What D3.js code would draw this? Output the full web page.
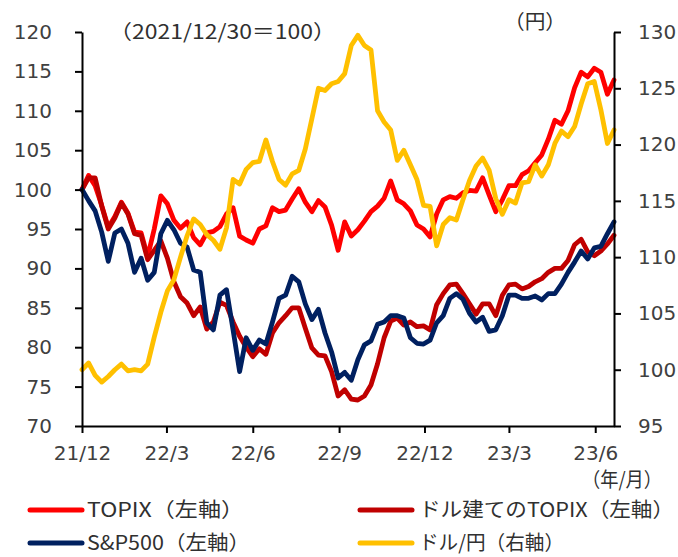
<!DOCTYPE html>
<html><head><meta charset="utf-8">
<script src="https://cdn.jsdelivr.net/npm/d3@7/dist/d3.min.js"></script>
<style>
body{margin:0;background:#fff;}
svg{display:block;}
.num{font-family:"DejaVu Sans",Verdana,sans-serif;font-size:20px;fill:#404040;}
.jp{font-family:"Noto Sans CJK JP","Noto Sans",sans-serif;font-size:20px;fill:#303030;}
</style>
</head><body>
<svg id="chart" width="678" height="557"></svg>
<script>
// ---- data (weekly, from 2021/12/30) ----
const startDate = "2021-12-30";
const nWeeks = 82;
const topix = [100.0,101.8,100.5,98.0,95.2,96.6,98.4,97.0,94.6,94.5,
  91.5,95.0,99.2,98.2,96.1,95.1,95.9,93.9,93.0,94.5,
  94.7,95.3,96.9,97.7,94.1,93.6,93.2,95.0,95.4,97.7,
  97.2,97.4,98.8,100.1,98.4,97.2,98.6,97.8,95.5,92.3,
  95.9,94.1,94.9,96.0,97.2,97.9,98.9,101.1,98.7,98.2,
  97.3,95.5,95.0,94.0,96.9,98.7,99.1,98.9,99.6,99.9,
  99.8,101.5,99.3,97.2,98.7,100.5,100.5,101.9,102.4,103.4,
  104.4,106.4,108.8,108.3,110.0,112.9,114.9,114.3,115.4,114.9,
  112.1,113.9];
const topixUsd = [100.0,101.5,101.5,97.9,95.0,96.4,98.3,96.9,94.4,94.2,
  91.1,92.3,93.5,91.3,88.3,86.4,85.6,84.0,85.1,82.3,
  83.2,85.7,85.3,83.2,81.4,80.0,78.8,79.8,79.1,81.8,
  83.1,84.0,85.0,85.0,82.4,79.9,79.0,78.9,76.9,73.8,
  74.6,73.4,73.3,73.8,75.2,77.9,81.2,83.3,83.7,82.8,
  83.2,82.6,82.7,82.2,85.4,86.8,87.9,88.0,86.8,85.5,
  84.2,85.5,85.5,84.0,86.6,87.9,88.0,87.4,87.7,88.3,
  88.7,89.5,90.0,90.0,91.0,93.0,93.7,92.1,91.6,92.2,
  93.1,94.2];
const sp500 = [100.0,98.6,97.3,94.6,90.9,94.5,95.0,93.2,89.5,91.3,
  88.5,89.5,94.4,96.1,94.9,93.2,92.7,89.8,89.5,83.1,
  82.2,86.6,87.3,82.2,76.9,81.2,79.6,80.9,80.4,83.2,
  86.2,86.6,89.0,88.3,85.5,83.5,84.8,81.8,79.4,76.1,
  76.8,75.8,78.4,80.3,80.8,82.9,83.2,84.0,84.0,83.7,
  81.2,80.5,80.4,80.9,83.1,84.0,86.2,86.8,86.1,84.3,
  83.2,83.8,82.0,82.2,84.0,86.6,86.6,86.2,86.2,86.5,
  86.0,86.8,86.8,88.0,89.5,90.8,92.2,91.2,92.6,92.8,
  94.4,95.9];
const usdjpy = [100.0,100.6,99.5,98.9,99.4,100.0,100.5,99.9,100.0,99.9,
  100.5,102.9,105.1,107.0,108.0,110.0,111.9,113.4,112.9,112.0,
  111.5,110.7,112.6,116.9,116.5,117.8,118.4,118.5,120.4,118.5,
  116.9,116.4,117.4,117.7,119.6,122.3,125.0,124.8,125.4,125.6,
  126.3,128.8,129.7,128.8,128.4,123.0,122.0,121.3,118.6,119.5,
  118.2,116.9,114.6,114.5,111.0,112.9,113.5,113.3,115.1,116.8,
  118.1,118.8,117.7,115.2,113.8,115.1,114.8,116.6,116.7,118.2,
  117.2,118.2,120.1,121.2,120.7,121.6,123.6,125.4,125.6,123.1,
  120.1,121.3];

const xTickDates = ["2021-12-30","2022-03-30","2022-06-30","2022-09-30","2022-12-30","2023-03-30","2023-06-30"];
const xTickLabels = ["21/12","22/3","22/6","22/9","22/12","23/3","23/6"];
const leftTicks = [70,75,80,85,90,95,100,105,110,115,120];
const rightTicks = [95,100,105,110,115,120,125,130];

const seriesNames = ["TOPIX（左軸）","ドル建てのTOPIX（左軸）","S&P500（左軸）","ドル/円（右軸）"];
const seriesColors = ["#FF0000","#C00000","#002060","#FFC000"];

// ---- chart ----
const parse = d3.timeParse("%Y-%m-%d");
const d0 = parse(startDate);
const dates = d3.range(nWeeks).map(i => d3.timeDay.offset(d0, 7*i));

const svg = d3.select("#chart");
const L = 82, R = 614, T = 32, B = 426;

const x = d3.scaleTime().domain([dates[0], dates[nWeeks-1]]).range([L, R]);
const yL = d3.scaleLinear().domain([70,120]).range([B, T]);
const yR = d3.scaleLinear().domain([95,130]).range([B, T]);

function styleAxis(g){
  g.selectAll("path.domain").attr("stroke","#000").attr("stroke-width",2);
  g.selectAll(".tick line").attr("stroke","#000").attr("stroke-width",2);
  g.selectAll(".tick text").attr("class","num").attr("font-family",null).attr("font-size",null).attr("fill",null);
}

// series lines
const lineL = (arr) => d3.line().x((d,i)=>x(dates[i])).y(d=>yL(d))(arr);
const lineR = (arr) => d3.line().x((d,i)=>x(dates[i])).y(d=>yR(d))(arr);
const plots = [
  {data: topix, f: lineL, c: seriesColors[0]},
  {data: topixUsd, f: lineL, c: seriesColors[1]},
  {data: sp500, f: lineL, c: seriesColors[2]},
  {data: usdjpy, f: lineR, c: seriesColors[3]}
];
svg.append("g").selectAll("path").data(plots).join("path")
  .attr("d", p => p.f(p.data))
  .attr("fill","none").attr("stroke", p=>p.c)
  .attr("stroke-width",4.8).attr("stroke-linejoin","round").attr("stroke-linecap","round");

// axes
const gx = svg.append("g").attr("transform",`translate(0,${B})`)
  .call(d3.axisBottom(x).tickValues(xTickDates.map(parse)).tickFormat((d,i)=>xTickLabels[i])
    .tickSize(7).tickSizeOuter(0).tickPadding(13));
styleAxis(gx);

const gl = svg.append("g").attr("transform",`translate(${L},0)`)
  .call(d3.axisLeft(yL).tickValues(leftTicks).tickSize(7).tickSizeOuter(0).tickPadding(23));
styleAxis(gl);

const gr = svg.append("g").attr("transform",`translate(${R},0)`)
  .call(d3.axisRight(yR).tickValues(rightTicks).tickSize(7).tickSizeOuter(0).tickPadding(17));
styleAxis(gr);

// annotations
svg.append("text").attr("class","jp").attr("x",109).attr("y",32).attr("dy","0.35em")
  .attr("textLength",227).attr("lengthAdjust","spacingAndGlyphs").text("（2021/12/30＝100）");
svg.append("text").attr("class","jp").attr("x",504).attr("y",22).attr("dy","0.35em")
  .attr("textLength",62).attr("lengthAdjust","spacingAndGlyphs").text("（円）");
svg.append("text").attr("class","jp").attr("x",662).attr("y",480).attr("dy","0.35em").attr("text-anchor","end")
  .attr("textLength",80).attr("lengthAdjust","spacingAndGlyphs").text("（年/月）");

// legend
const legPos = [[30,510],[360,510],[30,543],[360,543]];
const legLen = [157,255,163,145];
const lg = svg.append("g").selectAll("g").data(seriesNames).join("g")
  .attr("transform",(d,i)=>`translate(${legPos[i][0]},${legPos[i][1]})`);
lg.append("line").attr("x1",0).attr("x2",52).attr("y1",0).attr("y2",0)
  .attr("stroke",(d,i)=>seriesColors[i]).attr("stroke-width",5).attr("stroke-linecap","round");
lg.append("text").attr("class","jp").attr("x",(d,i)=> i%2===0 ? 57 : 59).attr("dy","0.33em")
  .attr("textLength",(d,i)=>legLen[i]).attr("lengthAdjust","spacingAndGlyphs").text(d=>d);
</script>
</body></html>
